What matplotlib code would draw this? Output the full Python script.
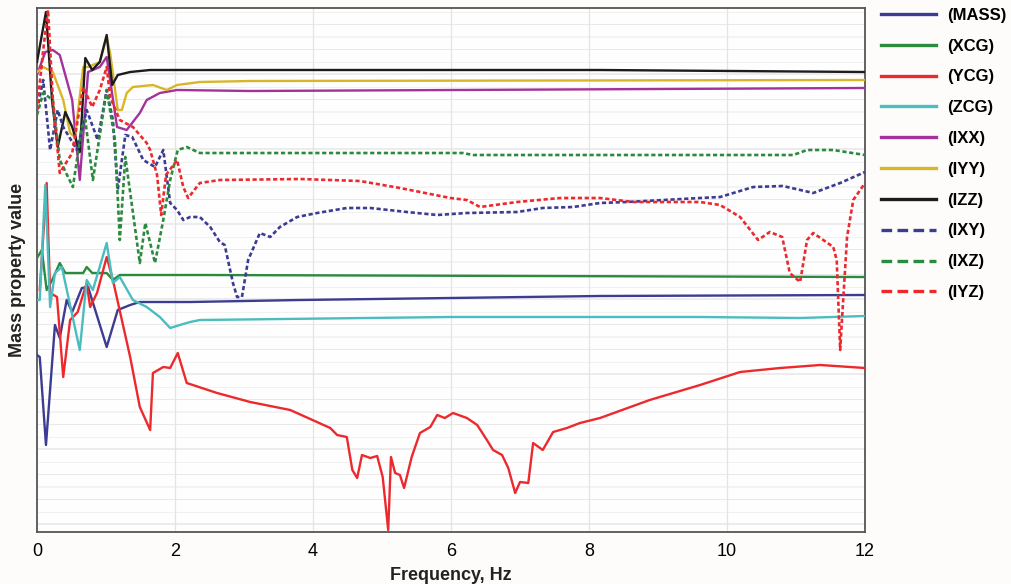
import matplotlib
matplotlib.use("Agg")
import matplotlib.pyplot as plt
from matplotlib.lines import Line2D
import numpy as np

# mass property estimates vs. frequency (arbitrary units, no scale shown)
f_mass = [0, 0.04, 0.13, 0.26, 0.33, 0.43, 0.51, 0.65, 0.74, 1.01, 1.17, 1.35, 1.49, 2.22, 3.81, 5.99, 8.16, 12]
v_mass = [177, 175, 87, 207, 194, 232, 220, 244, 245, 185, 222, 227, 230, 230, 232, 234, 236, 237]

f_xcg = [0, 0.07, 0.14, 0.22, 0.33, 0.41, 0.67, 0.72, 0.80, 1.01, 1.10, 1.20, 2.36, 12]
v_xcg = [274, 282, 242, 252, 269, 259, 259, 265, 259, 259, 252, 257, 257, 255]

f_ycg = [0.04, 0.14, 0.19, 0.29, 0.38, 0.48, 0.59, 0.72, 0.77, 0.87, 1.01, 1.10, 1.35, 1.49,
         1.64, 1.68, 1.83, 1.93, 2.04, 2.17, 2.61, 3.09, 3.67, 4.25, 4.35, 4.49, 4.57, 4.64,
         4.71, 4.83, 4.93, 5.01, 5.09, 5.13, 5.19, 5.26, 5.32, 5.43, 5.55, 5.70, 5.80, 5.91,
         6.03, 6.23, 6.38, 6.52, 6.61, 6.74, 6.83, 6.93, 7.00, 7.12, 7.19, 7.33, 7.48, 7.68,
         7.87, 8.16, 8.88, 9.61, 10.19, 10.77, 11.35, 12]
v_ycg = [242, 349, 239, 235, 155, 212, 220, 249, 225, 239, 275, 252, 175, 125,
         102, 159, 165, 164, 179, 149, 139, 130, 122, 104, 97, 95, 62, 54,
         77, 74, 76, 55, 2, 75, 59, 57, 44, 75, 99, 105, 117, 114,
         119, 114, 107, 92, 82, 77, 64, 39, 50, 49, 89, 82, 100, 104,
         109, 114, 132, 147, 160, 164, 167, 164]

f_zcg = [0, 0.04, 0.12, 0.19, 0.26, 0.36, 0.62, 0.72, 0.81, 1.01, 1.10, 1.20, 1.39, 1.59,
         1.78, 1.93, 2.07, 2.22, 2.36, 5.99, 9.61, 11.06, 12]
v_zcg = [232, 232, 347, 225, 259, 265, 182, 252, 242, 289, 249, 255, 232, 225,
         215, 204, 207, 210, 212, 215, 215, 214, 216]

f_ixx = [0, 0.12, 0.23, 0.33, 0.51, 0.62, 0.74, 0.91, 1.01, 1.16, 1.30, 1.49, 1.59, 1.78, 2.03, 3.09, 12]
v_ixx = [457, 480, 482, 477, 432, 352, 460, 465, 475, 405, 402, 419, 432, 439, 442, 441, 444]

f_iyy = [0, 0.09, 0.23, 0.38, 0.48, 0.55, 0.67, 0.74, 0.91, 1.01, 1.06, 1.17, 1.23, 1.30,
         1.39, 1.68, 1.88, 2.03, 2.36, 3.09, 12]
v_iyy = [460, 465, 460, 432, 399, 395, 465, 465, 470, 495, 479, 422, 422, 439,
         445, 447, 442, 447, 450, 451, 452]

f_izz = [0, 0.13, 0.22, 0.30, 0.41, 0.51, 0.62, 0.70, 0.80, 0.91, 1.01, 1.09, 1.17, 1.35, 1.64, 2.0, 3.81, 8.16, 12]
v_izz = [470, 520, 430, 385, 420, 405, 380, 474, 462, 470, 497, 447, 457, 460, 462, 462, 462, 462, 460]

f_ixy = [0, 0.09, 0.19, 0.30, 0.38, 0.58, 0.72, 0.88, 1.01, 1.10, 1.17, 1.28, 1.38, 1.54,
         1.71, 1.83, 1.93, 2.03, 2.12, 2.22, 2.36, 2.51, 2.65, 2.72, 2.84, 2.90, 2.97, 3.06,
         3.23, 3.38, 3.52, 3.77, 4.06, 4.49, 4.83, 5.36, 5.80, 6.23, 6.96, 7.33, 7.77, 8.16,
         8.55, 9.61, 9.90, 10.38, 10.81, 11.25, 11.64, 12]
v_ixy = [422, 452, 382, 422, 405, 382, 422, 392, 442, 412, 342, 397, 395, 372,
         365, 382, 329, 322, 312, 315, 315, 305, 290, 287, 249, 235, 235, 272,
         299, 295, 305, 315, 319, 324, 324, 320, 317, 319, 320, 324, 325, 329,
         330, 334, 335, 345, 346, 339, 349, 360]

f_ixz = [0, 0.09, 0.23, 0.33, 0.52, 0.65, 0.70, 0.81, 1.01, 1.13, 1.20, 1.28, 1.49, 1.57,
         1.71, 1.83, 1.93, 2.04, 2.17, 2.36, 5.26, 6.17, 6.32, 10.96, 11.16, 11.54, 12]
v_ixz = [417, 439, 432, 372, 345, 405, 412, 352, 442, 392, 292, 375, 269, 309,
         269, 312, 352, 382, 385, 379, 379, 379, 377, 377, 382, 382, 377]

f_iyz = [0, 0.09, 0.16, 0.23, 0.33, 0.51, 0.67, 0.80, 0.91, 1.01, 1.06, 1.20, 1.39, 1.59,
         1.64, 1.74, 1.80, 1.87, 2.03, 2.12, 2.19, 2.36, 2.65, 3.81, 4.68, 5.26, 5.99, 6.23,
         6.42, 6.96, 7.58, 8.16, 8.64, 9.61, 9.90, 10.19, 10.45, 10.62, 10.80, 10.91, 11.06,
         11.16, 11.25, 11.54, 11.59, 11.64, 11.74, 11.83, 12]
v_iyz = [422, 482, 522, 432, 359, 379, 445, 425, 442, 465, 435, 412, 405, 389,
         382, 357, 317, 357, 372, 345, 334, 349, 352, 353, 351, 344, 334, 332,
         325, 330, 334, 334, 330, 330, 327, 315, 292, 300, 295, 259, 250,
         292, 299, 285, 272, 182, 295, 332, 349]

blue = "#3b3c92"
green = "#2b8a3e"
red = "#ec2a2e"
teal = "#4bbcbf"
magenta = "#a3329a"
gold = "#d8b628"
black = "#1c1c1c"

series = [
    ("(MASS)", f_mass, v_mass, blue, "-"),
    ("(XCG)", f_xcg, v_xcg, green, "-"),
    ("(YCG)", f_ycg, v_ycg, red, "-"),
    ("(ZCG)", f_zcg, v_zcg, teal, "-"),
    ("(IXX)", f_ixx, v_ixx, magenta, "-"),
    ("(IYY)", f_iyy, v_iyy, gold, "-"),
    ("(IZZ)", f_izz, v_izz, black, "-"),
    ("(IXY)", f_ixy, v_ixy, blue, "--"),
    ("(IXZ)", f_ixz, v_ixz, green, "--"),
    ("(IYZ)", f_iyz, v_iyz, red, "--"),
]

plt.rcParams["font.family"] = ["Liberation Sans", "DejaVu Sans"]

fig = plt.figure(figsize=(10.11, 5.84), dpi=100)
fig.patch.set_facecolor("#fdfcfa")
ax = fig.add_axes([37 / 1011, 52 / 584, 828 / 1011, 524 / 584])
ax.set_facecolor("#fefefe")

# faint horizontal rules + vertical grid at even frequencies
for i, yy in enumerate(np.arange(8, 524, 12.5)):
    ax.axhline(yy, color="#e2e2e2", lw=0.7 if i % 3 else 1.2, alpha=0.45 if i % 2 else 0.75, zorder=0)
for xx in range(2, 12, 2):
    ax.axvline(xx, color="#e4e4e4", lw=0.9, zorder=0)

for name, fx, vy, col, ls in series:
    if ls == "--":
        ax.plot(fx, vy, color=col, lw=1.9, dashes=(1.6, 1.0), label=name, zorder=3)
    else:
        ax.plot(fx, vy, color=col, lw=1.7, label=name, zorder=3)

ax.set_xlim(0, 12)
ax.set_ylim(0, 524)
ax.set_xticks(range(0, 13, 2))
ax.set_yticks([])
ax.tick_params(axis="x", length=0, pad=8, labelsize=13)
for s in ax.spines.values():
    s.set_color("#555555")
    s.set_linewidth(1.3)

ax.set_xlabel("Frequency, Hz", fontsize=13, fontweight="bold", labelpad=5, color="#222222")
ax.set_ylabel("Mass property value", fontsize=13, fontweight="bold", labelpad=8, color="#222222")

# legend uses longer dashes than the plotted curves
leg_handles = []
for name, fx, vy, col, ls in series:
    if ls == "--":
        leg_handles.append(Line2D([], [], color=col, lw=2.4, dashes=(3.2, 1.6)))
    else:
        leg_handles.append(Line2D([], [], color=col, lw=2.4))
fig.legend(leg_handles, [s[0] for s in series], loc="upper left",
           bbox_to_anchor=(874 / 1011, 1 - 1 / 584), frameon=False,
           handlelength=3.3, handletextpad=0.7, labelspacing=0.95,
           borderaxespad=0, prop={"weight": "bold", "size": 12})

fig.savefig("out.png", dpi=100, facecolor=fig.get_facecolor())
